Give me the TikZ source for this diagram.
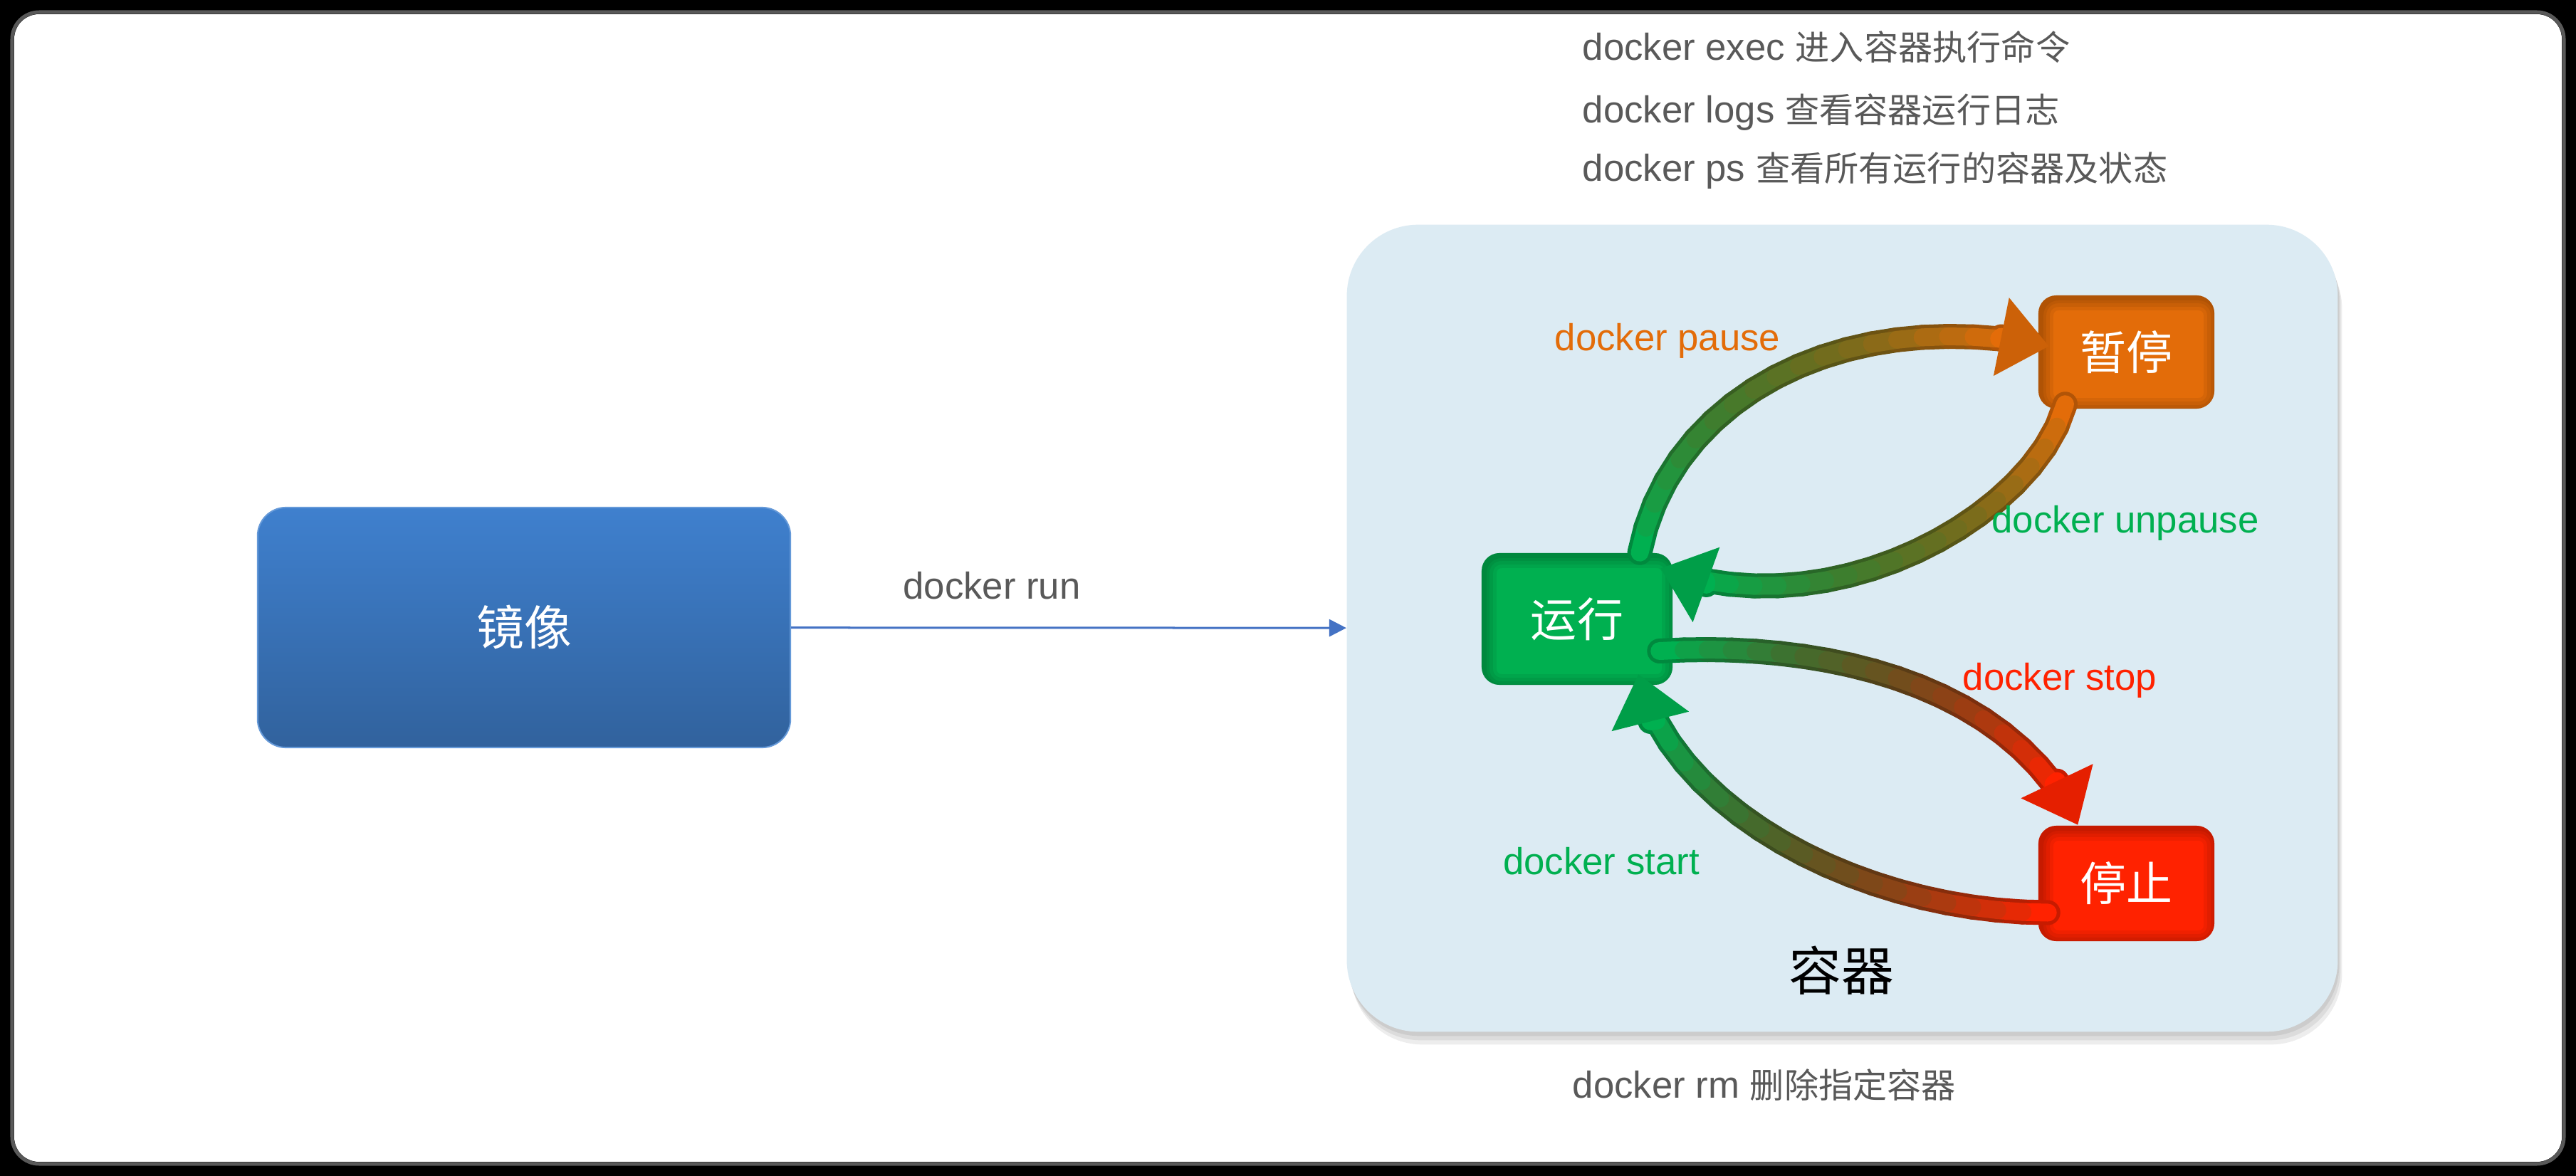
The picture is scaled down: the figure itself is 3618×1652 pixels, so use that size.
\documentclass[tikz,border=0pt]{standalone}
\usepackage{fontspec}
\setmainfont{Liberation Sans}
\newfontfamily\cjk{Noto Sans CJK SC}
\usetikzlibrary{arrows.meta,calc,decorations.markings,shadows}

\definecolor{runGreen}{HTML}{00B050}
\definecolor{pauseOrange}{HTML}{E36C09}
\definecolor{stopRed}{HTML}{FF2200}
\definecolor{ctrBlue}{HTML}{DCEBF3}
\definecolor{imgTop}{HTML}{3F80CE}
\definecolor{imgBottom}{HTML}{31629D}
\definecolor{cmdGray}{HTML}{595959}
\definecolor{runBlue}{HTML}{4472C4}

\newcommand\zh[1]{{\cjk\fontsize{13.7}{18}\selectfont #1}}

% thick bent arrow, colour going from #2 to #3
\newcommand\gradarrow[4]{%
  \path[decorate, decoration={markings,
      mark=between positions 0 and 1 step 0.05 with
        {\coordinate (#1\pgfkeysvalueof{/pgf/decoration/mark info/sequence number});}}] #4;
  \path[decorate, decoration={markings,
      mark=at position 0.999 with
        {\coordinate (#1tip) at (0,0);
         \coordinate (#1base) at (-0.68cm,0);
         \coordinate (#1l) at (-0.68cm,0.56cm);
         \coordinate (#1r) at (-0.68cm,-0.56cm);}}] #4;
  \foreach \i [evaluate=\i as \j using int(\i+1),
               evaluate=\i as \pc using int(100-100*(\i-1)/18),
               evaluate=\i as \dk using int(100-20*sin(180*(\i-1)/18))] in {1,...,18}{
    \colorlet{segc}{#2!\pc!#3}
    \draw[line width=0.35cm, line cap=round, segc!\dk!black!78!black] (#1\i) -- (#1\j);
  }
  \draw[line width=0.35cm, line cap=round, #3!78!black] (#119) -- (#1base);
  \foreach \i [evaluate=\i as \j using int(\i+1),
               evaluate=\i as \pc using int(100-100*(\i-1)/18),
               evaluate=\i as \dk using int(100-20*sin(180*(\i-1)/18))] in {1,...,18}{
    \colorlet{segc}{#2!\pc!#3}
    \draw[line width=0.25cm, line cap=round, segc!\dk!black] (#1\i) -- (#1\j);
  }
  \draw[line width=0.25cm, line cap=round, #3] (#119) -- (#1base);
  \fill[#3!90!black] (#1tip) -- (#1l) -- (#1r) -- cycle;
}

\begin{document}
\begin{tikzpicture}[x=0.01cm, y=-0.01cm,
    cmd/.style={anchor=base west, inner sep=0, text=cmdGray, font=\fontsize{15}{18}\selectfont},
    lbl/.style={anchor=base, inner sep=0, font=\fontsize{15}{18}\selectfont},
    soft shadow/.style={
      general shadow={fill=black, opacity=0.07, shadow xshift=0.02cm, shadow yshift=-0.06cm},
      general shadow={fill=black, opacity=0.07, shadow xshift=0.04cm, shadow yshift=-0.12cm},
      general shadow={fill=black, opacity=0.07, shadow xshift=0.06cm, shadow yshift=-0.18cm}},
    statebox/.style={rectangle, rounded corners=0.25cm, fill=#1, text=white,
      font=\cjk\fontsize{18.5}{22}\selectfont, minimum width=2.47cm, minimum height=1.6cm,
      path picture={
        \foreach \w in {0.36cm,0.26cm,0.16cm,0.08cm}
          \draw[black, opacity=0.06, line width=\w, rounded corners=0.25cm]
            ([shift={(0.03cm,-0.03cm)}]path picture bounding box.south west) rectangle
            ([shift={(0.03cm,-0.03cm)}]path picture bounding box.north east);
      }},
    imgbox/.style={rectangle, rounded corners=0.4cm, top color=imgTop, bottom color=imgBottom,
      draw=imgTop!80!white, line width=0.02cm, text=white,
      font=\cjk\fontsize{19}{22}\selectfont, minimum width=7.48cm, minimum height=3.37cm},
    ctrbox/.style={rectangle, rounded corners=1cm, fill=ctrBlue, soft shadow,
      minimum width=13.91cm, minimum height=11.33cm},
    runarrow/.style={draw=runBlue, line width=0.03cm, -{Triangle[length=0.24cm,width=0.24cm]}}
]
    \useasboundingbox (0,0) rectangle (3618,1652);
    % frame
    \fill[black] (0,0) rectangle (3618,1652);
    \draw[black!65, line width=0.05cm, rounded corners=0.38cm] (17,17) rectangle (3601,1635);
    \fill[white, rounded corners=0.35cm] (20,20) rectangle (3598,1632);

    \node[imgbox] (image) at (736,881.5) {镜像};
    \node[ctrbox] (container) at (2587.5,882.5) {};
    \node[font=\cjk\fontsize{21}{24}\selectfont] (ctrname) at (2586,1363) {容器};

    \node[statebox=runGreen, minimum width=2.68cm, minimum height=1.85cm] (running) at (2215,869.5) {运行};
    \node[statebox=pauseOrange, minimum height=1.59cm] (paused) at (2986.5,494.5) {暂停};
    \node[statebox=stopRed, minimum height=1.62cm] (stopped) at (2986.5,1241) {停止};

    \draw[runarrow] (image) -- (container);

    \gradarrow{pz}{runGreen}{pauseOrange}{($(running.north)+(88,0)$) .. controls +(40,-210) and +(-300,-60) .. ($(paused.west)+(16,-8)$)}
    \gradarrow{up}{pauseOrange}{runGreen}{($(paused.south)+(-86,-7)$) .. controls +(-40,150) and +(250,90) .. ($(running.north east)+(-18,22)$)}
    \gradarrow{sp}{runGreen}{stopRed}{($(running.east)+(-19,45)$) .. controls +(250,-15) and +(-90,-190) .. ($(stopped.north)+(-68,0)$)}
    \gradarrow{st}{stopRed}{runGreen}{($(stopped.west)+(14,41)$) .. controls +(-250,0) and +(50,200) .. ($(running.south)+(86,-16)$)}

    \node[lbl, text=cmdGray] (lrun) at (1393,841) {docker run};
    \node[lbl, text=pauseOrange] (lpause) at (2342,492) {docker pause};
    \node[lbl, text=runGreen] (lunpause) at (2985,748) {docker unpause};
    \node[lbl, text=stopRed] (lstop) at (2893,969) {docker stop};
    \node[lbl, text=runGreen] (lstart) at (2249,1228) {docker start};

    \node[cmd] (exec) at (2222,85) {docker exec \zh{进入容器执行命令}};
    \node[cmd] (logs) at (2222,173) {docker logs \zh{查看容器运行日志}};
    \node[cmd] (ps) at (2222,255) {docker ps \zh{查看所有运行的容器及状态}};
    \node[cmd] (rm) at (2208,1542) {docker rm \zh{删除指定容器}};
\end{tikzpicture}
\end{document}
